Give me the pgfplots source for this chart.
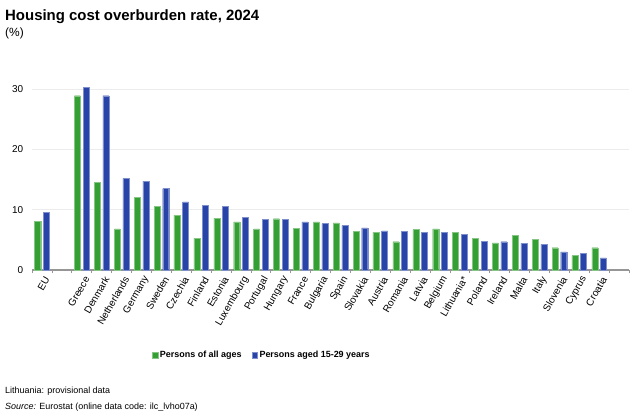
\documentclass[border=0pt]{standalone}
\usepackage{fontspec}
\setmainfont{Liberation Sans}
\usepackage{pgfplots}
\pgfplotsset{compat=1.18}
\definecolor{eugreen}{RGB}{52,160,52}
\definecolor{eublue}{RGB}{40,68,168}
\definecolor{gridgray}{RGB}{236,236,236}
\definecolor{axgray}{RGB}{150,150,150}
\begin{document}
\begin{tikzpicture}
\path[use as bounding box] (0,0) rectangle (640bp,415bp);
\node[anchor=base west, inner sep=0pt, font=\bfseries\fontsize{15}{18}\selectfont] at (5bp,394bp) {Housing cost overburden rate, 2024};
\node[anchor=base west, inner sep=0pt, font=\fontsize{12}{14}\selectfont] at (5bp,378bp) {(\%)};
\node[anchor=base west, inner sep=0pt, font=\fontsize{9}{11}\selectfont] at (5bp,22bp) {Lithuania: provisional data};
\node[anchor=base west, inner sep=0pt, font=\fontsize{9}{11}\selectfont] at (5bp,6bp) {\textit{Source:} Eurostat (online data code: ilc\_lvho07a)};
\begin{axis}[
  at={(32bp,145bp)}, anchor=south west,
  scale only axis, width=597bp, height=199bp,
  xmin=-0.5, xmax=29.5, ymin=0, ymax=33,
  axis x line*=bottom, axis y line*=left,
  y axis line style={draw=none},
  x axis line style={draw=axgray, line width=1.2bp},
  ytick={0,10,20,30},
  ytick style={draw=none},
  ymajorgrids, grid style={draw=gridgray, line width=0.6bp},
  yticklabel style={font=\fontsize{10}{12}\selectfont, xshift=-1bp},
  /pgf/number format/assume math mode=true,
  xtick={0,2,3,4,5,6,7,8,9,10,11,12,13,14,15,16,17,18,19,20,21,22,23,24,25,26,27,28},
  xticklabels={EU,Greece,Denmark,Netherlands,Germany,Sweden,Czechia,Finland,Estonia,Luxembourg,Portugal,Hungary,France,Bulgaria,Spain,Slovakia,Austria,Romania,Latvia,Belgium,Lithuania*,Poland,Ireland,Malta,Italy,Slovenia,Cyprus,Croatia},
  major x tick style={draw=none},
  minor xtick={-0.5,0.5,...,29.5},
  minor x tick style={draw=axgray, line width=0.8bp},
  minor tick length=3bp, tick align=outside,
  xticklabel style={font=\fontsize{10}{12}\selectfont, rotate=60, anchor=east, inner sep=1pt, yshift=-6bp, xshift=1bp},
  legend style={at={(0.385,-0.427)}, anchor=center, draw=none, fill=none,
    legend columns=2, font=\bfseries\fontsize{9}{11}\selectfont,
    /tikz/every even column/.append style={column sep=8bp}},
  legend image code/.code={\fill[#1] (0bp,-2.8bp) rectangle (5.6bp,2.8bp);},
  clip=false,
]
\addplot[ybar, bar width=6bp, bar shift=-4.3bp, fill=eugreen, draw=eugreen!60!white, line width=0.3bp] coordinates {
(0,8.1) (2,28.9) (3,14.5) (4,6.8) (5,12.0) (6,10.6) (7,9.1) (8,5.3) (9,8.6) (10,8.0)
(11,6.8) (12,8.5) (13,6.9) (14,8.0) (15,7.8) (16,6.4) (17,6.3) (18,4.7) (19,6.7) (20,6.8)
(21,6.2) (22,5.2) (23,4.5) (24,5.8) (25,5.1) (26,3.7) (27,2.4) (28,3.7)};
\addlegendentry{Persons of all ages}
\addplot[ybar, bar width=6bp, bar shift=4.3bp, fill=eublue, draw=eublue!60!white, line width=0.3bp] coordinates {
(0,9.6) (2,30.3) (3,28.9) (4,15.2) (5,14.75) (6,13.5) (7,11.3) (8,10.7) (9,10.6) (10,8.7)
(11,8.4) (12,8.4) (13,8.0) (14,7.7) (15,7.4) (16,7.0) (17,6.5) (18,6.4) (19,6.2) (20,6.2)
(21,5.9) (22,4.8) (23,4.7) (24,4.4) (25,4.3) (26,3.0) (27,2.8) (28,2.0)};
\addlegendentry{Persons aged 15-29 years}
\end{axis}
\end{tikzpicture}
\end{document}
